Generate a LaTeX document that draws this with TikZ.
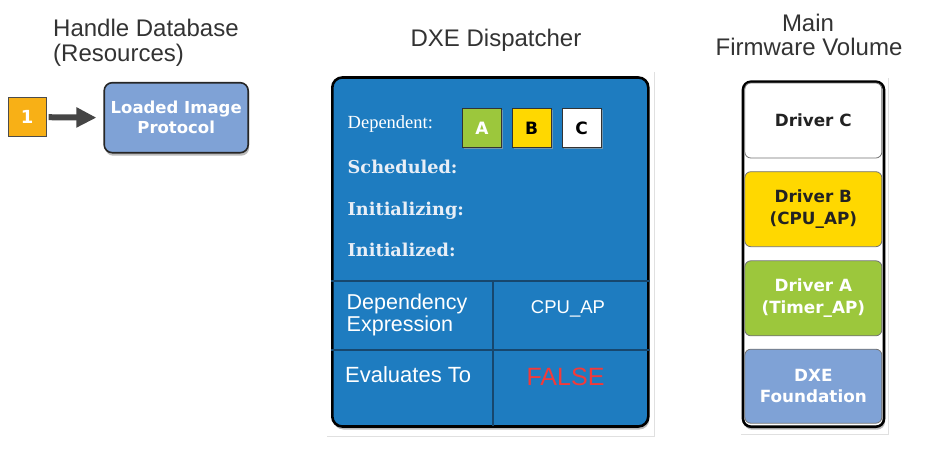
\documentclass[tikz,border=0pt]{standalone}
\usepackage{fontspec}
\setmainfont{Liberation Sans}
\newfontfamily\verd{DejaVu Sans}
\newfontfamily\tms{Liberation Serif}
\newfontfamily\geo{DejaVu Serif}
\usetikzlibrary{shadows,arrows.meta}
\definecolor{titlegray}{HTML}{333333}
\definecolor{dispblue}{HTML}{1E7CC0}
\definecolor{lineblue}{HTML}{17476E}
\definecolor{protoblue}{HTML}{7FA2D6}
\definecolor{orng}{HTML}{F8B016}
\definecolor{agreen}{HTML}{9CC73C}
\definecolor{ayellow}{HTML}{FFD800}
\definecolor{labelwhite}{HTML}{E8EEF6}
\definecolor{falsered}{HTML}{F23A3A}
\definecolor{darktext}{HTML}{222222}
\definecolor{arrowgray}{HTML}{454545}
\tikzset{
  title/.style={font=\fontsize{24}{25}\selectfont, text=titlegray, inner sep=0pt},
  shad/.style={drop shadow={shadow xshift=1pt, shadow yshift=-3pt, fill=black!60, opacity=0.45}},
  stagelabel/.style={font=\geo\bfseries\fontsize{17.7}{20}\selectfont, text=labelwhite, inner sep=0pt, anchor=base west},
  tabletext/.style={font=\fontsize{21.5}{22.4}\selectfont, text=white, inner sep=0pt, align=left},
  depbox/.style={draw=black!80, line width=0.8pt, minimum size=39pt, inner sep=0pt,
    font=\verd\bfseries\fontsize{17}{20}\selectfont,
    drop shadow={shadow xshift=1.5pt, shadow yshift=-1.5pt, fill=black!35, opacity=0.6}},
  drvbox/.style={draw=black!55, line width=0.8pt, rounded corners=6pt, minimum width=137pt,
    align=center, inner sep=0pt, font=\verd\bfseries\fontsize{16.8}{21.5}\selectfont},
  faint/.style={draw=black!12, line width=0.8pt},
}
\begin{document}
\begin{tikzpicture}[x=1pt,y=-1pt]
\useasboundingbox (0,0) rectangle (925,450);
\fill[white] (0,0) rectangle (925,450);

% titles
\node[title, anchor=base west] (hd1) at (53,36.7) {Handle Database};
\node[title, anchor=base west] (hd2) at (53,61.6) {(Resources)};
\node[title, anchor=base] (dx) at (496,46.7) {DXE Dispatcher};
\node[title, anchor=base] (mfv1) at (808,31.7) {Main};
\node[title, anchor=base] (mfv2) at (809,55) {Firmware Volume};

% handle database
\node[draw=black!70, line width=0.8pt, fill=orng, minimum width=38pt, minimum height=39pt, inner sep=0pt,
  text=white, font=\verd\bfseries\fontsize{18}{20}\selectfont] (one) at (27.2,117.2) {1};
\node[draw=black!85, line width=1.6pt, fill=protoblue, rounded corners=8pt, shad,
  minimum width=144pt, minimum height=70pt, align=center, inner sep=0pt, text=white,
  font=\verd\bfseries\fontsize{16.5}{20}\selectfont] (lip) at (176.2,117.7) {Loaded Image\\Protocol};
\draw[arrowgray, line width=6pt, -{Triangle[length=20pt,width=19pt]}, shorten >=7pt, shorten <=2pt] (one.east) -- (lip.west);

% dispatcher
\draw[faint] (327,436) -- (654,436) -- (654,72);
\node[draw=black, line width=2.6pt, fill=dispblue, rounded corners=10pt, shad,
  minimum width=316pt, minimum height=349pt, inner sep=0pt] (disp) at (490.3,252) {};
\draw[lineblue, line width=2pt] (disp.west |- 0,281) -- (disp.east |- 0,281);
\draw[lineblue, line width=2pt] (disp.west |- 0,350) -- (disp.east |- 0,350);
\draw[lineblue, line width=2pt] (493.3,281) -- (493.3,425.5);

\node[inner sep=0pt, anchor=base west, text=white, font=\tms\fontsize{18.5}{20}\selectfont] (dep) at (347.5,128.3) {Dependent:};
\node[depbox, fill=agreen, text=white] (depA) at (482,128) {A};
\node[depbox, fill=ayellow, text=black] (depB) at (531.5,128) {B};
\node[depbox, fill=white, text=black] (depC) at (581.5,128) {C};
\node[stagelabel] (sch) at (347.5,173.3) {Scheduled:};
\node[stagelabel] (ing) at (347.5,215) {Initializing:};
\node[stagelabel] (ied) at (347.5,256.7) {Initialized:};

\node[tabletext, anchor=base west] (de1) at (346.5,309.3) {Dependency};
\node[tabletext, anchor=base west] (de2) at (346.5,331.7) {Expression};
\node[inner sep=0pt, anchor=base, text=white, font=\fontsize{18.5}{20}\selectfont] (cpu) at (568,313.3) {CPU\_AP};
\node[inner sep=0pt, anchor=base west, text=white, font=\fontsize{22}{24}\selectfont] (ev) at (345,382.7) {Evaluates To};
\node[inner sep=0pt, anchor=base, text=falsered, font=\fontsize{25}{27}\selectfont] (fls) at (565.5,385) {FALSE};

% firmware volume
\draw[faint] (741,434) -- (888,434) -- (888,78);
\node[draw=black, line width=2.6pt, fill=white, rounded corners=8pt, shad,
  minimum width=141pt, minimum height=345pt, inner sep=0pt] (fv) at (813.5,254.2) {};
\node[drvbox, fill=white, text=darktext, minimum height=75pt] (drvC) at (813.3,120.5) {Driver C};
\node[drvbox, fill=ayellow, text=darktext, minimum height=75pt] (drvB) at (813.3,209.2) {Driver B\\(CPU\_AP)};
\node[drvbox, fill=agreen, text=white, minimum height=75pt] (drvA) at (813.3,298.3) {Driver A\\(Timer\_AP)};
\node[drvbox, fill=protoblue, text=white, minimum height=74pt] (dxef) at (813.3,386.2) {DXE\\Foundation};
\end{tikzpicture}
\end{document}
